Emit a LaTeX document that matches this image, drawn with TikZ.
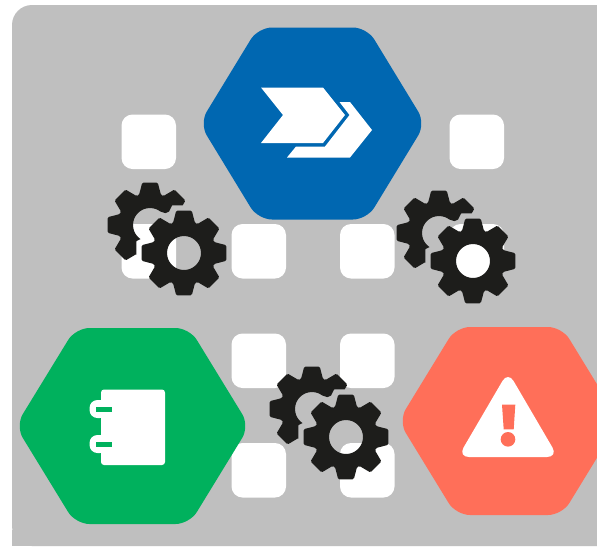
\documentclass[tikz,border=0pt]{standalone}
\definecolor{panelgray}{HTML}{BFBFBF}
\definecolor{hexblue}{HTML}{0067B1}
\definecolor{hexgreen}{HTML}{00B15D}
\definecolor{hexred}{HTML}{FF6F59}
\definecolor{gearblack}{HTML}{1D1D1B}
\newcommand\gearoutline[5]{% cx, cy, tip radius, root radius, tip half-angle
  ([shift={(#1,#2)}]90-#5:#3)
  \foreach \a in {90,135,180,225,270,315,360,405}{
    -- ([shift={(#1,#2)}]\a+#5:#3)
    -- ([shift={(#1,#2)}]\a+20:#4)
    -- ([shift={(#1,#2)}]\a+25:#4)
    -- ([shift={(#1,#2)}]\a+45-#5:#3)
  } -- cycle}
\newcommand\geartwin[2]{% front-gear centre
  \begin{scope}[even odd rule]
    \clip (-10,-10) rectangle (620,560) \gearoutline{#1}{#2}{49}{44}{14};
    \fill[gearstyle] \gearoutline{#1-34}{#2-28}{43}{32}{10.5} (#1-34,#2-28) circle (17);
  \end{scope}
  \fill[gearstyle,even odd rule] \gearoutline{#1}{#2}{43}{32}{10.5} (#1,#2) circle (17);
}
\tikzset{
  gearstyle/.style={fill=gearblack,rounded corners=1.2pt},
  slot/.style={fill=white,rounded corners=11pt},
  hexa/.style={rounded corners=14pt},
  glyph/.style={fill=white}
}
\begin{document}
\begin{tikzpicture}[x=1pt,y=-1pt]
\useasboundingbox (0,0) rectangle (597,547);
\fill[white] (0,0) rectangle (597,547);
\fill[panelgray,rounded corners=20pt] (12,546) -- (12,5) -- (640,5) -- (640,546) -- cycle;
\fill[panelgray] (12,530) rectangle (597,546);
% slots
\foreach \x/\y in {121.5/114.5,449.5/114.5,121.5/224,231.5/224,340/224,449.5/224,231.5/333.5,340/333.5,231.5/443,340/443}
  \fill[slot] (\x,\y) rectangle ++(54.5,54.5);
% hexagons
\fill[hexblue,hexa] (199.5,123.5) -- (258,27.5) -- (367,27.5) -- (425.5,123.5) -- (367,219.5) -- (258,219.5) -- cycle;
\fill[hexgreen,hexa] (15.5,426) -- (75.5,328) -- (189.5,328) -- (249.5,426) -- (189.5,524) -- (75.5,524) -- cycle;
\fill[hexred,hexa] (398.5,421) -- (456,327) -- (562,327) -- (619.5,421) -- (562,515) -- (456,515) -- cycle;
% blue glyph
\fill[glyph] (261,87.5) -- (323,87.5) -- (345,115) -- (323,143) -- (261,143) -- (283,115) -- cycle;
\fill[glyph] (339.5,102) -- (350,102) -- (372,130) -- (350,157.5) -- (287,157.5) -- (296,146.5) -- (325,146.5) -- (349.5,115) -- cycle;
% notebook glyph
\fill[glyph,rounded corners=3pt] (101,389.5) -- (165,389.5) -- (165,465) -- (101,465) -- cycle;
\fill[glyph,rounded corners=8pt] (89.5,400) rectangle (108,418);
\fill[glyph,rounded corners=8pt] (89.5,435) rectangle (108,453);
\fill[hexgreen] (96,406.5) rectangle (111.5,412);
\fill[hexgreen] (96,441.5) rectangle (111.5,447);
% warning glyph
\fill[glyph,rounded corners=11pt] (508,371.5) -- (558,457) -- (458,457) -- cycle;
\fill[hexred] (502,404.7) -- (515.3,404.7) -- (513.7,429.3) -- (503.7,429.3) -- cycle;
\fill[hexred] (508,439.3) circle (7.3);
% gears
\geartwin{184}{253}
\geartwin{473}{261}
\geartwin{346}{437}
\end{tikzpicture}
\end{document}
